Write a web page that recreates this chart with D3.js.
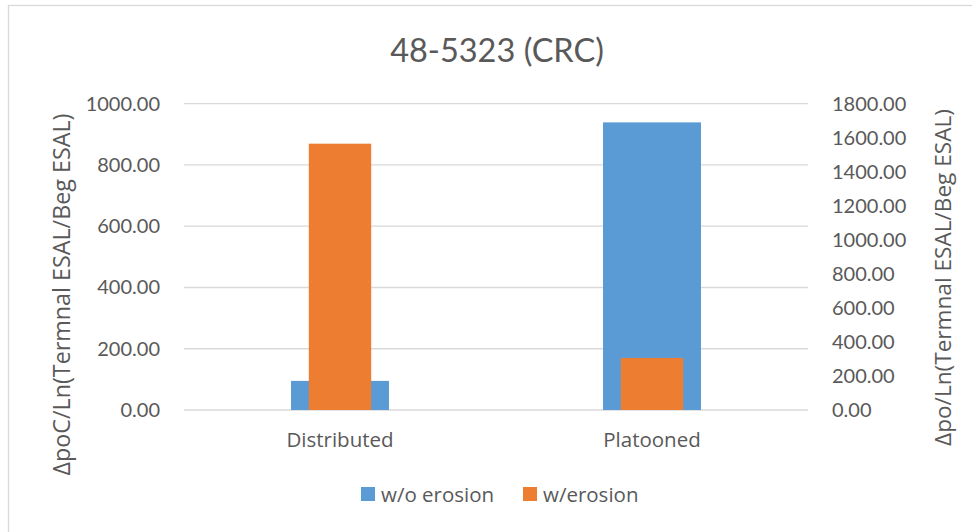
<!DOCTYPE html>
<html><head><meta charset="utf-8">
<script src="https://cdn.jsdelivr.net/npm/d3@7"></script>
<style>body{margin:0;background:#fff}svg{display:block}</style>
</head><body>
<script>
const categories = ["Distributed", "Platooned"];
const woErosion = [95, 939];      // primary axis
const wErosion = [1565, 306];     // secondary axis
const leftTicks = [0, 200, 400, 600, 800, 1000];
const rightTicks = [0, 200, 400, 600, 800, 1000, 1200, 1400, 1600, 1800];
const title = "48-5323 (CRC)";
const seriesNames = ["w/o erosion", "w/erosion"];
const leftTitle = "ΔpoC/Ln(Termnal ESAL/Beg ESAL)";
const rightTitle = "Δpo/Ln(Termnal ESAL/Beg ESAL)";
const colors = ["#5b9bd5", "#ed7d31"];

const W = 972, H = 532;
const fontNum = "Lato, Calibri, sans-serif";
const fontTxt = "'Open Sans', 'Segoe UI', sans-serif";
const txt = "#595959";
const svg = d3.select("body").append("svg").attr("width", W).attr("height", H);
svg.append("rect").attr("x", 8.5).attr("y", 5.5).attr("width", W + 10).attr("height", H + 10)
  .attr("fill", "#fff").attr("stroke", "#d9d9d9").attr("stroke-width", 1.3);

const m = {l: 184, r: 808, t: 103.7, b: 410};
const x = d3.scaleBand().domain(categories).range([m.l, m.r]);
const yL = d3.scaleLinear().domain([0, 1000]).range([m.b, m.t]);
const yR = d3.scaleLinear().domain([0, 1800]).range([m.b, m.t]);

// gridlines
svg.append("g").selectAll("line").data(leftTicks).join("line")
  .attr("x1", m.l).attr("x2", m.r).attr("y1", d => yL(d)).attr("y2", d => yL(d))
  .attr("stroke", "#d9d9d9").attr("stroke-width", 1.3);

// left axis
const axL = d3.axisLeft(yL).tickValues(leftTicks).tickFormat(d3.format(".2f")).tickSize(0).tickPadding(24);
const gL = svg.append("g").attr("transform", `translate(${m.l},0)`).call(axL);
gL.select(".domain").remove();
gL.selectAll("text").attr("font-family", fontNum).attr("font-size", 20).attr("fill", txt);

// right axis
const axR = d3.axisRight(yR).tickValues(rightTicks).tickFormat(d3.format(".2f")).tickSize(0).tickPadding(24);
const gR = svg.append("g").attr("transform", `translate(${m.r},0)`).call(axR);
gR.select(".domain").remove();
gR.selectAll("text").attr("font-family", fontNum).attr("font-size", 20).attr("fill", txt);

// bars
const bw1 = x.bandwidth() * 0.314, bw2 = x.bandwidth() * 0.2;
svg.append("g").selectAll("rect").data(categories).join("rect")
  .attr("x", d => x(d) + x.bandwidth() / 2 - bw1 / 2).attr("width", bw1)
  .attr("y", (d, i) => yL(woErosion[i])).attr("height", (d, i) => yL(0) - yL(woErosion[i]))
  .attr("fill", colors[0]);
svg.append("g").selectAll("rect").data(categories).join("rect")
  .attr("x", d => x(d) + x.bandwidth() / 2 - bw2 / 2).attr("width", bw2)
  .attr("y", (d, i) => yR(wErosion[i])).attr("height", (d, i) => yR(0) - yR(wErosion[i]))
  .attr("fill", colors[1]);

// category labels
svg.append("g").selectAll("text").data(categories).join("text")
  .attr("x", d => x(d) + x.bandwidth() / 2).attr("y", 447).attr("text-anchor", "middle")
  .attr("font-family", fontTxt).attr("font-size", 20.5).attr("fill", txt).text(d => d);

// title
svg.append("text").attr("x", 497).attr("y", 62).attr("text-anchor", "middle")
  .attr("font-family", fontNum).attr("font-size", 32.5).attr("fill", txt).text(title);

// axis titles
function fitText(sel, target) {
  const len = sel.node().getComputedTextLength();
  const fs = +sel.attr("font-size");
  sel.attr("font-size", fs * target / len);
}
const tl = svg.append("text").attr("transform", `translate(70,294.5) rotate(-90)`)
  .attr("text-anchor", "middle").attr("font-family", fontTxt).attr("font-size", 20).attr("fill", txt)
  .text(leftTitle);
fitText(tl, 362);
const tr = svg.append("text").attr("transform", `translate(951,277.5) rotate(-90)`)
  .attr("text-anchor", "middle").attr("font-family", fontTxt).attr("font-size", 20).attr("fill", txt)
  .text(rightTitle);
fitText(tr, 337);

// legend
const lx = [361, 523];
const lg = svg.append("g").selectAll("g").data(seriesNames).join("g")
  .attr("transform", (d, i) => `translate(${lx[i]},487)`);
lg.append("rect").attr("width", 14).attr("height", 14).attr("fill", (d, i) => colors[i]);
lg.append("text").attr("x", 20).attr("y", 15).attr("font-family", fontTxt).attr("font-size", 20.5)
  .attr("fill", txt).text(d => d);
</script>
</body></html>
